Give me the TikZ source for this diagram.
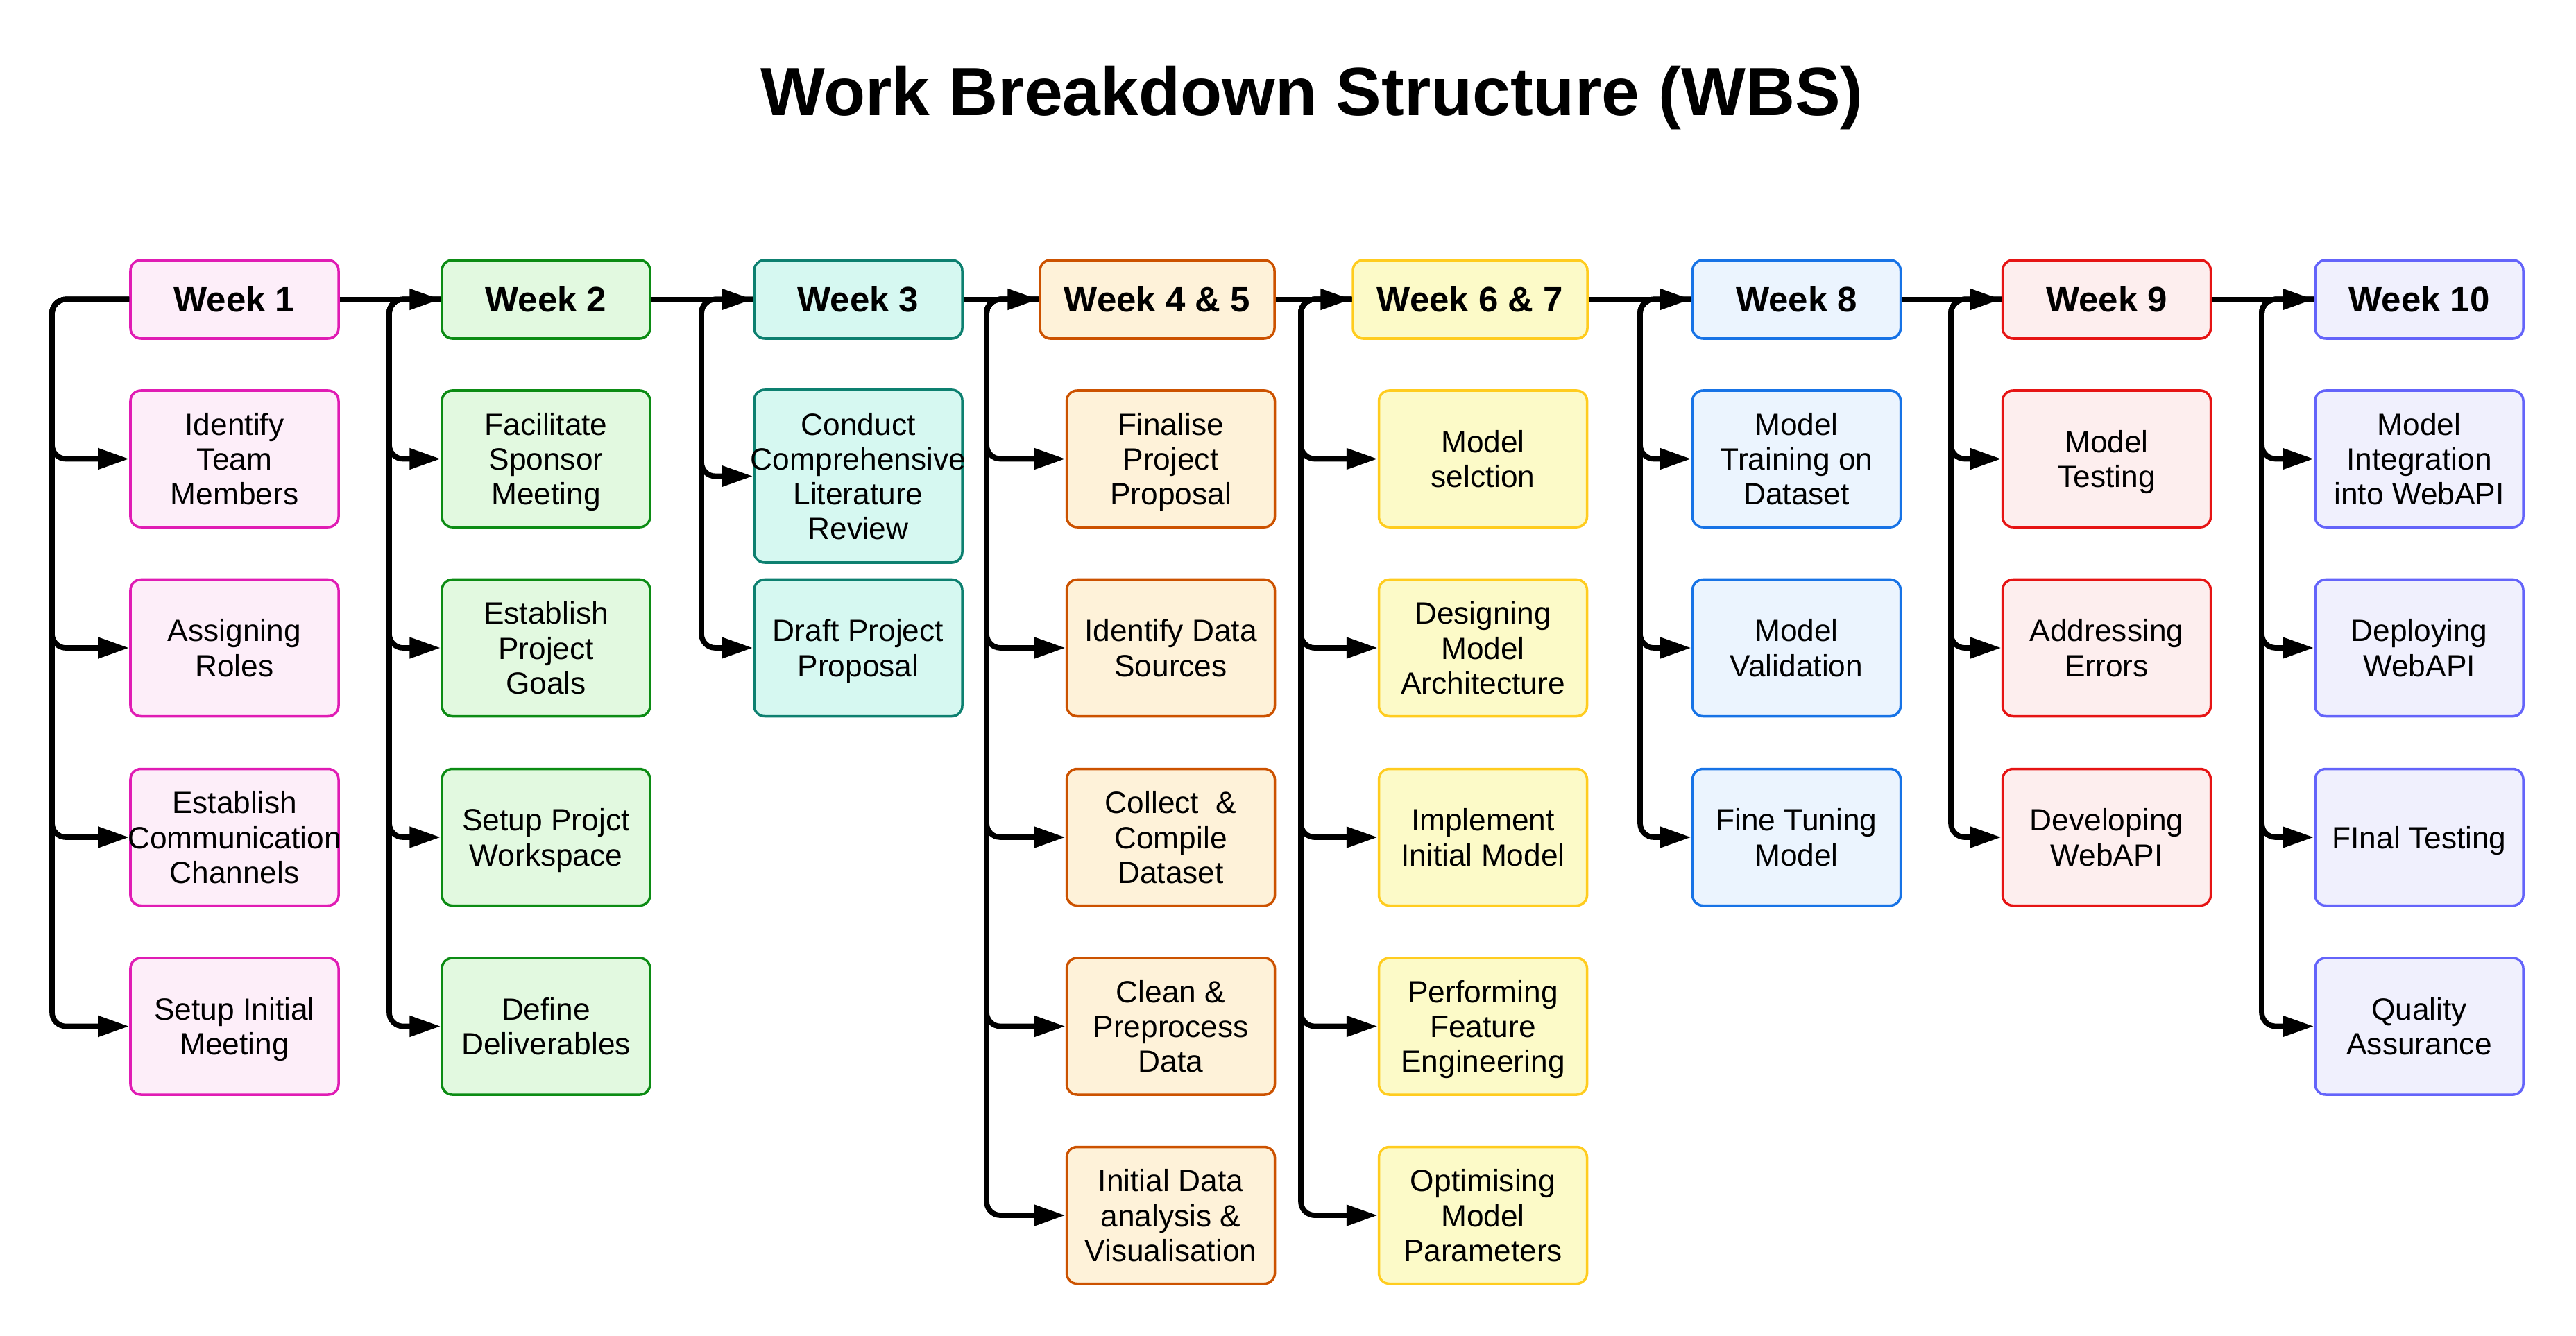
\documentclass[tikz,border=0pt]{standalone}
\usepackage{fontspec}
\setmainfont{Liberation Sans}
\usepackage{xcolor}
\usepackage{tikz}
\usetikzlibrary{arrows.meta}

\definecolor{pinkS}{HTML}{E01CB4}
\definecolor{pinkF}{HTML}{FDEEF9}
\definecolor{greenS}{HTML}{0C8C14}
\definecolor{greenF}{HTML}{E2F9E0}
\definecolor{tealS}{HTML}{0D8070}
\definecolor{tealF}{HTML}{D6F8F1}
\definecolor{orangeS}{HTML}{CC5200}
\definecolor{orangeF}{HTML}{FEF2D9}
\definecolor{yellowS}{HTML}{FFCC1F}
\definecolor{yellowF}{HTML}{FCFAC8}
\definecolor{blueS}{HTML}{1773E6}
\definecolor{blueF}{HTML}{EBF4FE}
\definecolor{redS}{HTML}{E61414}
\definecolor{redF}{HTML}{FDEEEE}
\definecolor{violetS}{HTML}{6464FA}
\definecolor{violetF}{HTML}{F0F0FD}

\begin{document}
\begin{tikzpicture}[
	box/.style={draw, line width=1pt, rounded corners=0.15cm, minimum width=3cm, minimum height=1.97cm, inner sep=0pt, align=center, text depth=0pt, font=\fontsize{12.6}{14.3}\selectfont},
	head/.style={box, minimum height=1.13cm, font=\fontsize{14.5}{17}\selectfont\bfseries},
	link/.style={line width=2.2pt, rounded corners=0.2cm, -{Triangle[length=0.45cm,width=0.29cm]}},
	wone/.style={draw=pinkS, fill=pinkF},
	wtwo/.style={draw=greenS, fill=greenF},
	wthree/.style={draw=tealS, fill=tealF},
	wfour/.style={draw=orangeS, fill=orangeF},
	wsix/.style={draw=yellowS, fill=yellowF},
	weight/.style={draw=blueS, fill=blueF},
	wnine/.style={draw=redS, fill=redF},
	wten/.style={draw=violetS, fill=violetF}]
		\useasboundingbox (0,0) rectangle (37.13,-19.26);
		\node (T) at (18.91,-1.67) [anchor=base, font=\fontsize{28}{34}\selectfont\bfseries] {Work Breakdown Structure (WBS)};
		%
		\node (W1) at (3.38,-4.315) [head, wone] {Week 1};
		\node (W1a) at (3.38,-6.615) [box, wone] {Identify\\Team\\Members};
		\node (W1b) at (3.38,-9.34) [box, wone] {Assigning\\Roles};
		\node (W1c) at (3.38,-12.07) [box, wone] {Establish\\\makebox[0pt]{Communication}\\Channels};
		\node (W1d) at (3.38,-14.795) [box, wone] {Setup Initial\\Meeting};
		%
		\node (W2) at (7.87,-4.315) [head, wtwo] {Week 2};
		\node (W2a) at (7.87,-6.615) [box, wtwo] {Facilitate\\Sponsor\\Meeting};
		\node (W2b) at (7.87,-9.34) [box, wtwo] {Establish\\Project\\Goals};
		\node (W2c) at (7.87,-12.07) [box, wtwo] {Setup Projct\\Workspace};
		\node (W2d) at (7.87,-14.795) [box, wtwo] {Define\\Deliverables};
		%
		\node (W3) at (12.37,-4.315) [head, wthree] {Week 3};
		\node (W3a) at (12.37,-6.865) [box, wthree, minimum height=2.49cm] {Conduct\\\makebox[0pt]{Comprehensive}\\Literature\\Review};
		\node (W3b) at (12.37,-9.34) [box, wthree] {Draft Project\\Proposal};
		%
		\node (W4) at (16.68,-4.315) [head, wfour, minimum width=3.38cm] {Week 4 \& 5};
		\node (W4a) at (16.875,-6.615) [box, wfour] {Finalise\\Project\\Proposal};
		\node (W4b) at (16.875,-9.34) [box, wfour] {Identify Data\\Sources};
		\node (W4c) at (16.875,-12.07) [box, wfour] {Collect~~\&\\Compile\\Dataset};
		\node (W4d) at (16.875,-14.795) [box, wfour] {Clean \&\\Preprocess\\Data};
		\node (W4e) at (16.875,-17.52) [box, wfour] {Initial Data\\analysis \&\\Visualisation};
		%
		\node (W6) at (21.19,-4.315) [head, wsix, minimum width=3.38cm] {Week 6 \& 7};
		\node (W6a) at (21.375,-6.615) [box, wsix] {Model\\selction};
		\node (W6b) at (21.375,-9.34) [box, wsix] {Designing\\Model\\Architecture};
		\node (W6c) at (21.375,-12.07) [box, wsix] {Implement\\Initial Model};
		\node (W6d) at (21.375,-14.795) [box, wsix] {Performing\\Feature\\Engineering};
		\node (W6e) at (21.375,-17.52) [box, wsix] {Optimising\\Model\\Parameters};
		%
		\node (W8) at (25.895,-4.315) [head, weight] {Week 8};
		\node (W8a) at (25.895,-6.615) [box, weight] {Model\\Training on\\Dataset};
		\node (W8b) at (25.895,-9.34) [box, weight] {Model\\Validation};
		\node (W8c) at (25.895,-12.07) [box, weight] {Fine Tuning\\Model};
		%
		\node (W9) at (30.365,-4.315) [head, wnine] {Week 9};
		\node (W9a) at (30.365,-6.615) [box, wnine] {Model\\Testing};
		\node (W9b) at (30.365,-9.34) [box, wnine] {Addressing\\Errors};
		\node (W9c) at (30.365,-12.07) [box, wnine] {Developing\\WebAPI};
		%
		\node (W10) at (34.87,-4.315) [head, wten] {Week 10};
		\node (W10a) at (34.87,-6.615) [box, wten] {Model\\Integration\\into WebAPI};
		\node (W10b) at (34.87,-9.34) [box, wten] {Deploying\\WebAPI};
		\node (W10c) at (34.87,-12.07) [box, wten] {FInal Testing};
		\node (W10d) at (34.87,-14.795) [box, wten] {Quality\\Assurance};
		%
		\coordinate (t1) at (0.75,-4.315);
		\coordinate (t2) at (5.61,-4.315);
		\coordinate (t3) at (10.11,-4.315);
		\coordinate (t4) at (14.22,-4.315);
		\coordinate (t6) at (18.75,-4.315);
		\coordinate (t8) at (23.64,-4.315);
		\coordinate (t9) at (28.12,-4.315);
		\coordinate (t10) at (32.60,-4.315);
		%
		\path[link]
		(W1.east) edge (W2.west)
		(W2.east) edge (W3.west)
		(W3.east) edge (W4.west)
		(W4.east) edge (W6.west)
		(W6.east) edge (W8.west)
		(W8.east) edge (W9.west)
		(W9.east) edge (W10.west);
		%
		\draw[link] (W1.west) -- (t1) |- (W1a.west);
		\draw[link] (W1.west) -- (t1) |- (W1b.west);
		\draw[link] (W1.west) -- (t1) |- (W1c.west);
		\draw[link] (W1.west) -- (t1) |- (W1d.west);
		\draw[link] (W2.west) -- (t2) |- (W2a.west);
		\draw[link] (W2.west) -- (t2) |- (W2b.west);
		\draw[link] (W2.west) -- (t2) |- (W2c.west);
		\draw[link] (W2.west) -- (t2) |- (W2d.west);
		\draw[link] (W3.west) -- (t3) |- (W3a.west);
		\draw[link] (W3.west) -- (t3) |- (W3b.west);
		\draw[link] (W4.west) -- (t4) |- (W4a.west);
		\draw[link] (W4.west) -- (t4) |- (W4b.west);
		\draw[link] (W4.west) -- (t4) |- (W4c.west);
		\draw[link] (W4.west) -- (t4) |- (W4d.west);
		\draw[link] (W4.west) -- (t4) |- (W4e.west);
		\draw[link] (W6.west) -- (t6) |- (W6a.west);
		\draw[link] (W6.west) -- (t6) |- (W6b.west);
		\draw[link] (W6.west) -- (t6) |- (W6c.west);
		\draw[link] (W6.west) -- (t6) |- (W6d.west);
		\draw[link] (W6.west) -- (t6) |- (W6e.west);
		\draw[link] (W8.west) -- (t8) |- (W8a.west);
		\draw[link] (W8.west) -- (t8) |- (W8b.west);
		\draw[link] (W8.west) -- (t8) |- (W8c.west);
		\draw[link] (W9.west) -- (t9) |- (W9a.west);
		\draw[link] (W9.west) -- (t9) |- (W9b.west);
		\draw[link] (W9.west) -- (t9) |- (W9c.west);
		\draw[link] (W10.west) -- (t10) |- (W10a.west);
		\draw[link] (W10.west) -- (t10) |- (W10b.west);
		\draw[link] (W10.west) -- (t10) |- (W10c.west);
		\draw[link] (W10.west) -- (t10) |- (W10d.west);
\end{tikzpicture}
\end{document}
